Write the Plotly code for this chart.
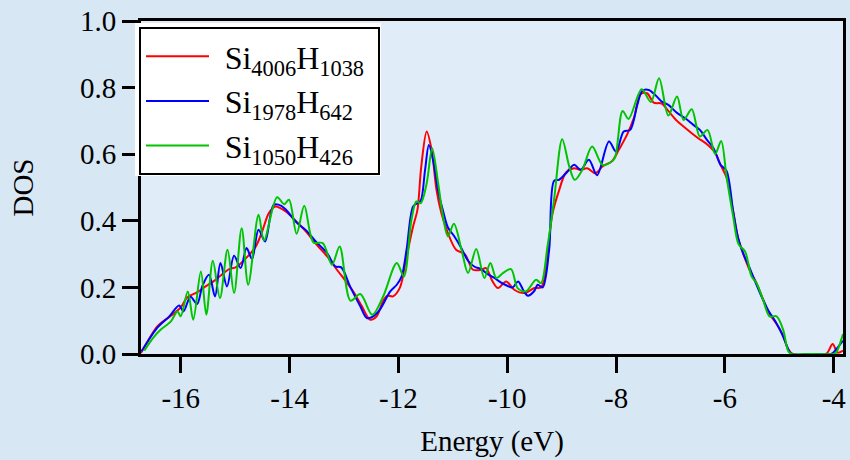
import plotly.graph_objects as go

# ---- data ----
red_E = [-16.73, -16.60, -16.43, -16.18, -16.00, -15.88, -15.70, -15.57, -15.40, -15.27,
         -15.11, -14.99, -14.80, -14.62, -14.50, -14.38, -14.26, -14.07, -13.89, -13.71,
         -13.50, -13.31, -13.13, -12.95, -12.80, -12.67, -12.52, -12.40, -12.28, -12.20,
         -12.10, -11.97, -11.85, -11.73, -11.65, -11.58, -11.48, -11.39, -11.30, -11.21,
         -11.09, -10.94, -10.78, -10.63, -10.48, -10.39, -10.27, -10.17, -10.02, -9.87,
         -9.69, -9.50, -9.38, -9.32, -9.26, -9.17, -9.05, -8.92, -8.77, -8.65,
         -8.53, -8.38, -8.25, -8.07, -7.95, -7.80, -7.67, -7.55, -7.43, -7.31,
         -7.16, -7.04, -6.88, -6.76, -6.61, -6.49, -6.33, -6.18, -6.08, -5.97,
         -5.85, -5.76, -5.66, -5.54, -5.42, -5.30, -5.18, -5.05, -4.93, -4.84,
         -4.75, -4.40, -4.14, -4.02, -3.93, -3.83]
red_DOS = [0.003, 0.040, 0.083, 0.115, 0.140, 0.170, 0.185, 0.200, 0.218, 0.235,
           0.255, 0.260, 0.288, 0.323, 0.370, 0.423, 0.443, 0.428, 0.400, 0.370,
           0.328, 0.293, 0.253, 0.215, 0.180, 0.143, 0.103, 0.113, 0.160, 0.175,
           0.173, 0.200, 0.293, 0.383, 0.433, 0.563, 0.668, 0.613, 0.493, 0.423,
           0.363, 0.313, 0.300, 0.253, 0.253, 0.258, 0.218, 0.198, 0.218, 0.193,
           0.183, 0.198, 0.200, 0.223, 0.300, 0.420, 0.490, 0.545, 0.558, 0.553,
           0.558, 0.543, 0.563, 0.580, 0.613, 0.658, 0.710, 0.780, 0.783, 0.755,
           0.752, 0.730, 0.700, 0.683, 0.663, 0.648, 0.630, 0.605, 0.568, 0.530,
           0.430, 0.350, 0.300, 0.250, 0.213, 0.165, 0.120, 0.090, 0.055, 0.015,
           0.000, 0.000, 0.000, 0.030, 0.004, 0.010]

blue_E = [-16.72, -16.45, -16.21, -16.03, -15.95, -15.82, -15.70, -15.60, -15.48, -15.37,
          -15.27, -15.15, -15.02, -14.90, -14.79, -14.69, -14.57, -14.45, -14.29, -14.15,
          -14.05, -13.86, -13.70, -13.52, -13.31, -13.16, -13.05, -12.88, -12.70, -12.58,
          -12.46, -12.34, -12.15, -12.03, -11.94, -11.85, -11.73, -11.65, -11.59, -11.51,
          -11.44, -11.36, -11.27, -11.18, -11.09, -10.98, -10.85, -10.72, -10.60, -10.48,
          -10.36, -10.25, -10.12, -10.00, -9.90, -9.80, -9.70, -9.62, -9.50, -9.44,
          -9.35, -9.23, -9.14, -9.05, -8.92, -8.77, -8.65, -8.50, -8.35, -8.13,
          -8.00, -7.86, -7.74, -7.61, -7.52, -7.40, -7.28, -7.16, -7.04, -6.88,
          -6.73, -6.58, -6.46, -6.33, -6.21, -6.08, -5.97, -5.85, -5.76, -5.66,
          -5.55, -5.45, -5.32, -5.20, -5.08, -4.95, -4.85, -4.78, -4.40, -4.05,
          -3.96, -3.83]
blue_DOS = [0.008, 0.075, 0.113, 0.146, 0.128, 0.172, 0.150, 0.205, 0.238, 0.173,
            0.273, 0.203, 0.295, 0.258, 0.318, 0.285, 0.373, 0.338, 0.448, 0.445,
            0.430, 0.393, 0.372, 0.338, 0.303, 0.263, 0.260, 0.200, 0.143, 0.108,
            0.113, 0.133, 0.188, 0.208, 0.233, 0.313, 0.443, 0.453, 0.460, 0.553,
            0.628, 0.580, 0.490, 0.430, 0.380, 0.355, 0.320, 0.280, 0.262, 0.255,
            0.240, 0.230, 0.215, 0.205, 0.200, 0.218, 0.190, 0.175, 0.190, 0.208,
            0.200, 0.313, 0.520, 0.523, 0.543, 0.568, 0.553, 0.583, 0.537, 0.638,
            0.608, 0.668, 0.673, 0.748, 0.790, 0.793, 0.778, 0.758, 0.748, 0.724,
            0.708, 0.688, 0.673, 0.643, 0.618, 0.568, 0.550, 0.430, 0.350, 0.300,
            0.260, 0.220, 0.170, 0.130, 0.100, 0.060, 0.020, 0.000, 0.000, 0.000,
            0.013, 0.040]

green_E = [-16.67, -16.50, -16.37, -16.18, -16.06, -16.00, -15.87, -15.77, -15.63, -15.53,
           -15.41, -15.28, -15.14, -15.02, -14.88, -14.76, -14.57, -14.47, -14.23, -14.10,
           -14.01, -13.87, -13.73, -13.56, -13.39, -13.22, -13.08, -12.88, -12.70, -12.48,
           -12.28, -12.03, -11.90, -11.76, -11.67, -11.59, -11.48, -11.38, -11.27, -11.18,
           -11.09, -10.98, -10.84, -10.72, -10.57, -10.42, -10.31, -10.20, -10.08, -9.93,
           -9.81, -9.66, -9.47, -9.38, -9.26, -9.14, -8.99, -8.86, -8.76, -8.62,
           -8.44, -8.25, -8.10, -8.02, -7.88, -7.77, -7.53, -7.36, -7.21, -7.04,
           -6.88, -6.76, -6.61, -6.46, -6.32, -6.18, -6.07, -5.97, -5.85, -5.75,
           -5.63, -5.51, -5.42, -5.30, -5.18, -5.05, -4.93, -4.84, -4.78, -4.40,
           -4.00, -3.96, -3.83]
green_DOS = [0.010, 0.050, 0.073, 0.098, 0.128, 0.113, 0.188, 0.103, 0.248, 0.118,
             0.280, 0.168, 0.313, 0.183, 0.378, 0.208, 0.418, 0.341, 0.471, 0.450,
             0.463, 0.361, 0.445, 0.335, 0.333, 0.268, 0.323, 0.160, 0.180, 0.118,
             0.173, 0.273, 0.233, 0.403, 0.458, 0.453, 0.513, 0.618, 0.513, 0.413,
             0.353, 0.391, 0.313, 0.243, 0.315, 0.228, 0.273, 0.228, 0.243, 0.255,
             0.198, 0.188, 0.223, 0.213, 0.323, 0.463, 0.645, 0.563, 0.523, 0.553,
             0.623, 0.568, 0.575, 0.590, 0.730, 0.706, 0.795, 0.757, 0.828, 0.716,
             0.773, 0.703, 0.735, 0.653, 0.673, 0.600, 0.640, 0.533, 0.415, 0.330,
             0.308, 0.233, 0.213, 0.163, 0.113, 0.113, 0.073, 0.010, 0.000, 0.000,
             0.000, 0.003, 0.060]

series_names = ["Si<sub>4006</sub>H<sub>1038</sub>",
                "Si<sub>1978</sub>H<sub>642</sub>",
                "Si<sub>1050</sub>H<sub>426</sub>"]
series_colors = ["#ff0000", "#0000ff", "#00c400"]

x_ticks = [-16, -14, -12, -10, -8, -6, -4]
x_tick_labels = ["-16", "-14", "-12", "-10", "-8", "-6", "-4"]
y_ticks = [0.0, 0.2, 0.4, 0.6, 0.8, 1.0]
y_tick_labels = ["0.0", "0.2", "0.4", "0.6", "0.8", "1.0"]

FONT = "Liberation Serif, Times New Roman, serif"

# plot-area geometry (pixels)
W, H = 850, 460
ML, MR, MT, MB = 141, 4, 21, 106
PW, PH = W - ML - MR, H - MT - MB


def px_to_paper(x, y):
    return (x - ML) / PW, (H - MB - y) / PH


fig = go.Figure()
for E, D, name, col in zip([red_E, blue_E, green_E], [red_DOS, blue_DOS, green_DOS],
                           series_names, series_colors):
    fig.add_trace(go.Scatter(x=E, y=D, mode="lines",
                             name="\u00a0\u200a" + name + "\u00a0",
                             line=dict(color=col, width=2, shape="spline", smoothing=0.9)))

axis_common = dict(showline=True, linecolor="black", linewidth=3, mirror=True,
                   ticks="outside", ticklen=16, tickwidth=3, tickcolor="black",
                   showgrid=False, zeroline=False,
                   tickfont=dict(family=FONT, size=29, color="black"))

# white halo behind the legend box
hx0, hy0 = px_to_paper(135, 23)
hx1, hy1 = px_to_paper(382, 176)
fig.add_shape(type="rect", xref="paper", yref="paper", x0=hx0, x1=hx1, y0=hy1, y1=hy0,
              fillcolor="white", line=dict(width=0), layer="above")

lx, ly = px_to_paper(139, 27)

fig.update_layout(
    width=W, height=H,
    margin=dict(l=ML, r=MR, t=MT, b=MB),
    paper_bgcolor="#d8e7f4",
    plot_bgcolor="#e0ecf7",
    font=dict(family=FONT, color="black"),
    xaxis=dict(range=[-16.73, -3.83], tickvals=x_ticks, ticktext=x_tick_labels,
               title=dict(text="Energy (eV)", font=dict(family=FONT, size=29), standoff=18),
               **axis_common),
    yaxis=dict(range=[0, 1], tickvals=y_ticks, ticktext=y_tick_labels,
               title=dict(text="DOS", font=dict(family=FONT, size=29), standoff=38),
               **axis_common),
    legend=dict(x=lx, y=ly, xanchor="left", yanchor="top",
                bgcolor="white", bordercolor="black", borderwidth=2,
                font=dict(family=FONT, size=32, color="black"),
                itemwidth=63, tracegroupgap=0),
    showlegend=True,
)

fig.write_html("out.html", config={"displayModeBar": False})
